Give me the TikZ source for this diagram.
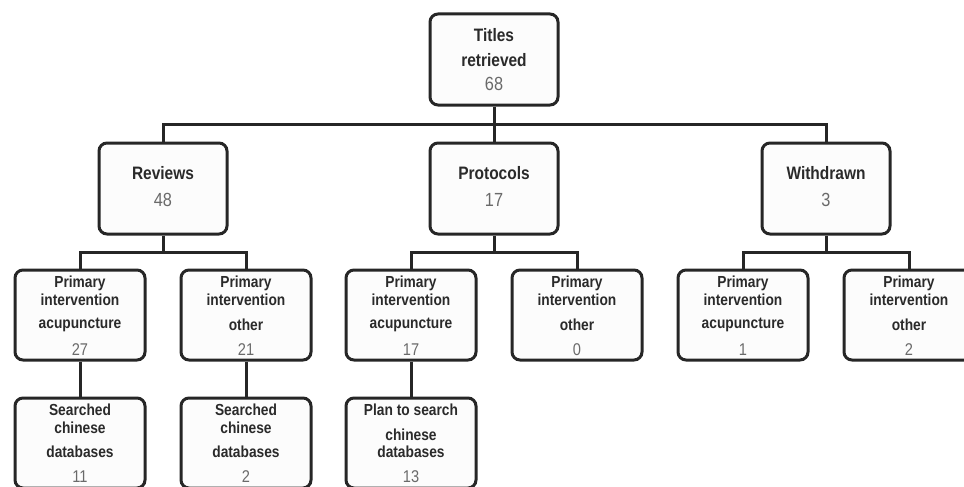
\documentclass[tikz,border=0pt]{standalone}
\usepackage{fontspec}
\setmainfont{Liberation Sans}[FakeStretch=0.86]
\definecolor{txt}{HTML}{2A2A2A}
\definecolor{num}{HTML}{6A6A6A}
\definecolor{boxfill}{HTML}{FCFCFC}
\tikzset{
  box/.style={draw=black!85, line width=3pt, rounded corners=8pt, fill=boxfill, inner sep=0pt},
  big/.style={box, minimum width=128pt, minimum height=91pt},
  small/.style={box, minimum width=130pt, minimum height=90pt},
  conn/.style={draw=black!85, line width=3pt},
  hd/.style={inner sep=0pt, text=txt, font=\bfseries\fontsize{18}{20}\selectfont},
  hn/.style={inner sep=0pt, text=num, font=\fontsize{19}{21}\selectfont},
  lb/.style={inner sep=0pt, text=txt, font=\bfseries\fontsize{16}{18}\selectfont},
  ln/.style={inner sep=0pt, text=num, font=\fontsize{17}{19}\selectfont}
}
\begin{document}
\begin{tikzpicture}[x=1pt,y=-1pt]
\useasboundingbox (0,0) rectangle (964,487);
\clip (0,0) rectangle (964,487);
% level 0
\node[big] (top) at (494,59.5) {};
\node[hd] (t1) at (494,35) {Titles};
\node[hd] (t2) at (494,60) {retrieved};
\node[hn] (t3) at (494,84) {68};
% level 1
\node[big] (rev) at (163,188.5) {};
\node[hd] (rv1) at (163,173) {Reviews};
\node[hn] (rv2) at (163,200) {48};
\node[big] (pro) at (494,188.5) {};
\node[hd] (pr1) at (494,173) {Protocols};
\node[hn] (pr2) at (494,200) {17};
\node[big] (wd) at (826,188.5) {};
\node[hd] (wd1) at (826,173) {Withdrawn};
\node[hn] (wd2) at (826,200) {3};
% level 2
\foreach \n/\x/\w/\v in {ra/80/acupuncture/27, ro/246/other/21, pa/411/acupuncture/17, po/577/other/0, wa/743/acupuncture/1, wo/909/other/2}{
  \node[small] (\n) at (\x,315) {};
  \node[lb] (\n-1) at (\x,283) {Primary};
  \node[lb] (\n-2) at (\x,300) {intervention};
  \node[lb] (\n-3) at (\x,325) {\w};
  \node[ln] (\n-4) at (\x,349.5) {\v};
}
% level 3
\node[small] (rsa) at (80,443) {};
\node[lb] (rsa-1) at (80,410) {Searched};
\node[lb] (rsa-2) at (80,428) {chinese};
\node[lb] (rsa-3) at (80,452) {databases};
\node[ln] (rsa-4) at (80,477) {11};
\node[small] (rso) at (246,443) {};
\node[lb] (rso-1) at (246,410) {Searched};
\node[lb] (rso-2) at (246,428) {chinese};
\node[lb] (rso-3) at (246,452) {databases};
\node[ln] (rso-4) at (246,477) {2};
\node[small] (pps) at (411,443) {};
\node[lb] (pps-1) at (411,410) {Plan to search};
\node[lb] (pps-2) at (411,435) {chinese};
\node[lb] (pps-3) at (411,452) {databases};
\node[ln] (pps-4) at (411,477) {13};
% connectors
\coordinate (bus0) at (494,124);
\coordinate (busr) at (163,252);
\coordinate (busp) at (494,252);
\coordinate (busw) at (826,252);
\draw[conn] (rev.north) |- (bus0) -| (wd.north);
\draw[conn] (top.south) -- (pro.north);
\draw[conn] (ra.north) |- (busr) -| (ro.north);
\draw[conn] (rev.south) -- (busr);
\draw[conn] (pa.north) |- (busp) -| (po.north);
\draw[conn] (pro.south) -- (busp);
\draw[conn] (wa.north) |- (busw) -| (wo.north);
\draw[conn] (wd.south) -- (busw);
\draw[conn] (ra.south) -- (rsa.north);
\draw[conn] (ro.south) -- (rso.north);
\draw[conn] (pa.south) -- (pps.north);
\end{tikzpicture}
\end{document}
